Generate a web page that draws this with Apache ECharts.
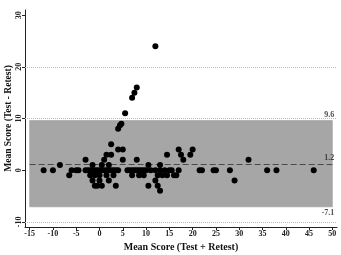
<!DOCTYPE html>
<html>
<head>
<meta charset="utf-8">
<script src="https://cdn.jsdelivr.net/npm/echarts@6/dist/echarts.min.js"></script>
<style>
  html, body { margin: 0; padding: 0; background: #fff; }
  #chart { width: 341px; height: 255px; }
</style>
</head>
<body>
<div id="chart"></div>
<script>
// mean of test + retest (x) and difference (y)
var meanX = [12, 8, 7.5, 7, 5.5, 4.7, 4.4, 4, 2.5, 1.5, 2.5, 4, 5, 5, 8, 1, -3, 14.5, 17, 17.5, 18, 19.5, 20, 32, -8.5,
  -12, -10, -6.5, -6, -5, -4.5,
  -3, -2.5, -2, -1.5, -1, -0.5, 0, 0.5, 1, 1.5, 2, 2.5, 3, 3.5, 4, -2, -1, 0, 1.5, 3, -1.5, 0.5, 2,
  -1.5, -1, 0, -0.5, 0.5, 2, 3.5,
  6, 6.5, 7, 7.5, 8, 8.5, 9, 9.5, 10, 7, 8.5, 9.5, 10.5, 11, 10.5,
  12, 12.5, 13, 13.5, 14, 14.5, 15, 15.5, 13, 12, 12.5, 13, 16, 16.5, 17,
  21.5, 22, 24.5, 25, 28, 29, 36, 38, 46];
var diffY = [24, 16, 15, 14, 11, 9, 8.7, 8, 5, 3, 3, 4, 4, 2, 2, 2, 2, 3, 4, 3, 2, 3, 4, 2, 1,
  0, 0, -1, 0, 0, 0,
  0, 0, 0, 0, 0, 0, 0, 0, 0, 0, 0, 0, 0, 0, 0, -1, -1, -1, -1, -1, 1, 1, 1,
  -2, -3, -2, -3, -3, -2, -3,
  0, 0, 0, 0, 0, 0, 0, 0, 0, -1, -1, -1, 1, 0, -3,
  0, -1, 0, -1, 0, -1, 0, 0, 1, -2, -3, -4, -1, -1, 0,
  0, 0, 0, 0, 0, -2, 0, 0, 0];

var meanDiff = 1.2;
var upperLoA = 9.6;
var lowerLoA = -7.1;
var bandFrom = -15, bandTo = 50;
var refLines = [20, 10, -10];
var xTicks = [-15, -10, -5, 0, 5, 10, 15, 20, 25, 30, 35, 40, 45, 50];
var yTicks = [-10, 0, 10, 20, 30];

var points = [];
for (var i = 0; i < meanX.length; i++) {
  points.push([meanX[i], diffY[i]]);
}

var serif = 'Liberation Serif';
var tagFont = { fontFamily: serif, fontWeight: 'bold', fontSize: 8, color: '#222', align: 'right' };

var chart = echarts.init(document.getElementById('chart'));
chart.setOption({
  animation: false,
  grid: { left: 25, right: 4, top: 10, bottom: 28, outerBoundsMode: 'none', containLabel: false },
  xAxis: {
    type: 'value',
    min: -16, max: 51,
    name: 'Mean Score (Test + Retest)',
    nameLocation: 'middle',
    nameGap: 15,
    nameMoveOverlap: false,
    nameTextStyle: { fontFamily: serif, fontWeight: 'bold', fontSize: 10, color: '#111' },
    axisLine: { show: true, onZero: false, lineStyle: { color: '#222', width: 1 } },
    axisTick: { show: true, length: 3, customValues: xTicks, lineStyle: { color: '#222' } },
    axisLabel: { customValues: xTicks, margin: 3, fontFamily: serif, fontWeight: 'bold', fontSize: 8, color: '#222' },
    splitLine: { show: false }
  },
  yAxis: {
    type: 'value',
    min: -11, max: 31,
    name: 'Mean Score (Test - Retest)',
    nameLocation: 'middle',
    nameGap: 11,
    nameMoveOverlap: false,
    nameTextStyle: { fontFamily: serif, fontWeight: 'bold', fontSize: 9.5, color: '#111' },
    axisLine: { show: true, onZero: false, lineStyle: { color: '#222', width: 1 } },
    axisTick: { show: true, length: 3, customValues: yTicks, lineStyle: { color: '#222' } },
    axisLabel: { customValues: yTicks, rotate: 90, margin: 2, fontFamily: serif, fontWeight: 'bold', fontSize: 8, color: '#222' },
    splitLine: { show: false }
  },
  series: [
    {
      type: 'scatter',
      data: [],
      silent: true,
      markArea: {
        silent: true,
        itemStyle: { color: '#a6a6a6', borderColor: '#909090', borderWidth: 0.5 },
        data: [[{ xAxis: bandFrom, yAxis: lowerLoA }, { xAxis: bandTo, yAxis: upperLoA }]]
      },
      markLine: {
        silent: true,
        symbol: 'none',
        animation: false,
        label: { show: false },
        data: refLines.map(function (v) {
          return { yAxis: v, lineStyle: { color: '#bdbdbd', type: 'dotted', width: 1 } };
        }).concat([
          [
            { coord: [bandFrom, meanDiff], lineStyle: { color: '#4a4a4a', type: [6, 3], width: 1.2 } },
            { coord: [bandTo, meanDiff] }
          ]
        ])
      }
    },
    {
      type: 'scatter',
      data: points,
      symbolSize: 6,
      itemStyle: { color: '#000', opacity: 1 },
      z: 5
    },
    {
      // value tags at the right end of each line
      type: 'scatter',
      symbolSize: 0,
      silent: true,
      data: [
        { value: [bandTo, upperLoA], label: Object.assign({ show: true, formatter: String(upperLoA), position: [2, -10] }, tagFont) },
        { value: [bandTo, meanDiff], label: Object.assign({ show: true, formatter: String(meanDiff), position: [2, -10] }, tagFont) },
        { value: [bandTo, lowerLoA], label: Object.assign({ show: true, formatter: String(lowerLoA), position: [2, 2] }, tagFont) }
      ],
      z: 6
    }
  ]
});
</script>
</body>
</html>
